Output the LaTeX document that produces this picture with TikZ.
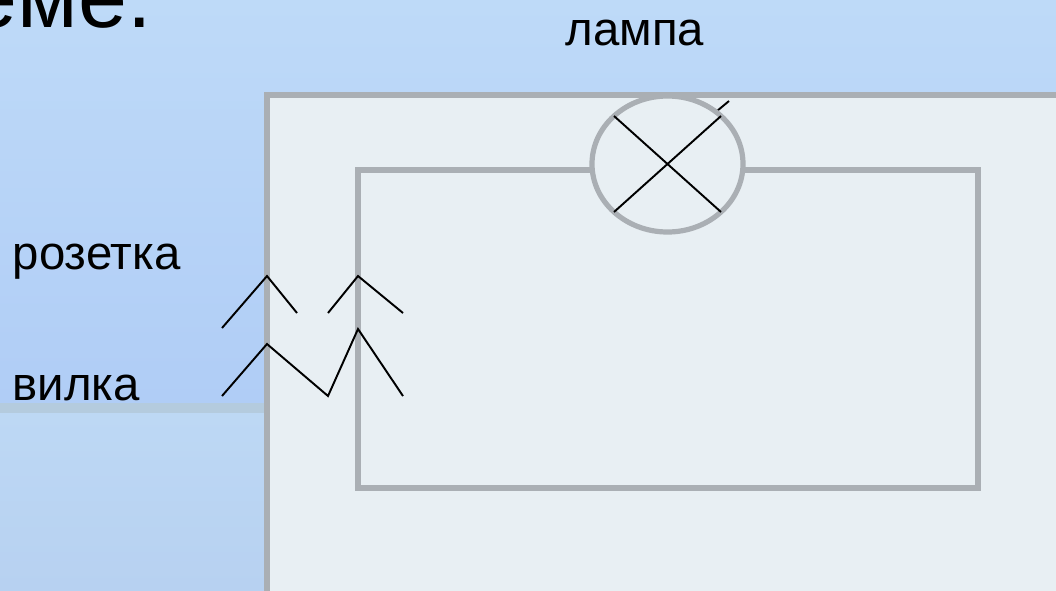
\documentclass[tikz,border=0pt]{standalone}
\usepackage{fontspec}
\setmainfont{Liberation Sans}
\usetikzlibrary{shapes.geometric}
\definecolor{bgtop}{RGB}{190,218,248}
\definecolor{bgmid}{RGB}{176,205,246}
\definecolor{bglow}{RGB}{189,216,244}
\definecolor{bgend}{RGB}{183,209,241}
\definecolor{panel}{RGB}{232,239,243}
\definecolor{wire}{RGB}{170,175,180}
\definecolor{shelf}{RGB}{180,203,222}
\tikzset{
  x=0.75pt,y=-0.75pt,
  greyline/.style={draw=wire,line width=3.9pt,line join=miter},
  blackline/.style={draw=black,line width=1.45pt,line join=miter},
  smalllabel/.style={font=\fontsize{35.5pt}{38pt}\selectfont,inner sep=0pt,text=black},
}
\begin{document}
\begin{tikzpicture}
\useasboundingbox (0,0) rectangle (1056,590);
\clip (0,0) rectangle (1056,590);
\fill[top color=bgtop,bottom color=bgmid] (0,0) rectangle (1056,404);
\fill[top color=bglow,bottom color=bgend] (0,412) rectangle (1056,590);
\node[anchor=base east,inner sep=0pt,font=\fontsize{66pt}{70pt}\selectfont] (title) at (152,27.5) {еме.};
\fill[shelf] (0,403) rectangle (267,413);
\path[fill=panel,greyline] (267,620) -- (267,95) -- (1090,95) -- (1090,620) -- cycle;
\coordinate (wl) at (592,170);
\coordinate (wr) at (743,170);
\coordinate (c1) at (358,170);
\coordinate (c2) at (358,488);
\coordinate (c3) at (978,488);
\coordinate (c4) at (978,170);
\draw[greyline] (wl) -- (c1) -- (c2) -- (c3) -- (c4) -- (wr);
\coordinate (t1) at (717,111);
\coordinate (t2) at (729,101);
\draw[blackline] (t1) -- (t2);
\node[ellipse,draw=wire,line width=3.9pt,minimum width=113.25pt,minimum height=102pt,inner sep=0pt] (lamp) at (667.5,164) {};
\coordinate (x1) at (614,116);
\coordinate (x2) at (721,212);
\coordinate (x3) at (614,212);
\coordinate (x4) at (721,116);
\draw[blackline] (x1) -- (x2);
\draw[blackline] (x3) -- (x4);
\coordinate (s1) at (222,328);
\coordinate (s2) at (267,276);
\coordinate (s3) at (297,313);
\coordinate (s4) at (328,313);
\coordinate (s5) at (358,276);
\coordinate (s6) at (403,313);
\draw[blackline] (s1) -- (s2) -- (s3);
\draw[blackline] (s4) -- (s5) -- (s6);
\coordinate (p1) at (222,396);
\coordinate (p2) at (267,344);
\coordinate (p3) at (328,396);
\coordinate (p4) at (358,329);
\coordinate (p5) at (403,396);
\draw[blackline] (p1) -- (p2) -- (p3) -- (p4) -- (p5);
\node[smalllabel,anchor=base] (lbllamp) at (635,45) {лампа};
\node[smalllabel,anchor=base west] (lblsock) at (12.5,269) {розетка};
\node[smalllabel,anchor=base west] (lblplug) at (12.5,400) {вилка};
\end{tikzpicture}
\end{document}
